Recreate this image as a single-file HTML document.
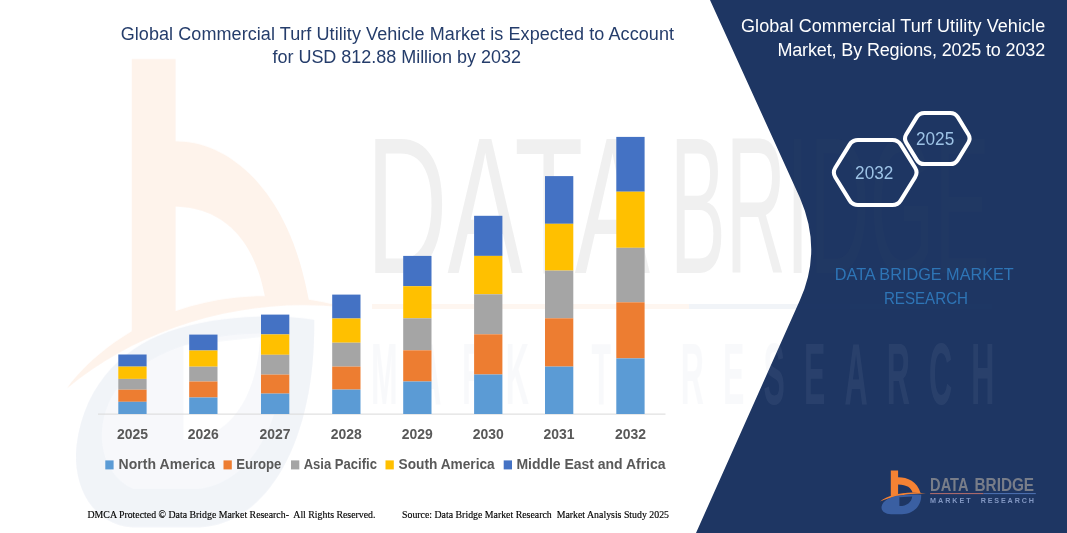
<!DOCTYPE html>
<html><head><meta charset="utf-8"><title>Global Commercial Turf Utility Vehicle Market</title>
<style>
html,body{margin:0;padding:0;background:#fff;}
body{width:1067px;height:533px;overflow:hidden;font-family:"Liberation Sans",sans-serif;}
svg{display:block;position:absolute;left:0;top:0;}
text{font-family:"Liberation Sans",sans-serif;}
.serif{font-family:"Liberation Serif",serif;}
</style></head><body>
<svg width="1067" height="533" viewBox="0 0 1067 533">
<defs>
<g id="mark">
  <path fill="#F58233" d="M10.8,2.4 H18.1 V9.3 C27,9.2 37.5,13.5 40.6,25.2 L32.6,24.6 C31.3,20 27,16.6 18.1,16.5 V26.6 L10.8,28.6 Z"/>
  <path fill="#F58233" d="M0,33.4 C9,26.3 27,22.3 46,25.5 C29,24.9 12,28.6 0,33.4 Z"/>
  <path fill="#3A5FA2" fill-rule="evenodd" class="bl" d="M41.2,26.8 C41.5,38 33.5,46 22,46.2 L11,46.2 C4.5,46 0.8,42.5 1.6,38.5 C3,32.5 10,29 18.5,27.6 C26,26.4 35,26.2 41.2,26.8 Z M19.4,29.2 L32.2,28.4 C31.6,34.2 27,38 19.4,38 Z"/>
</g>
<g id="logo">
  <use href="#mark"/>
  <text x="50.1" y="22.6" font-size="18" font-weight="bold" fill="#787D89" textLength="38.4" lengthAdjust="spacingAndGlyphs">DATA</text>
  <text x="94.5" y="22.6" font-size="18" font-weight="bold" fill="#787D89" textLength="59.6" lengthAdjust="spacingAndGlyphs">BRIDGE</text>
  <rect x="50.1" y="25.1" width="53.4" height="1" fill="#B86F6C"/>
  <rect x="103.5" y="25.1" width="52.3" height="1" fill="#4F74B5"/>
  <text x="50.1" y="34.7" font-size="7.2" font-weight="bold" fill="#8297C2" textLength="40.5" lengthAdjust="spacing">MARKET</text>
  <text x="100.7" y="34.7" font-size="7.2" font-weight="bold" fill="#8297C2" textLength="53.2" lengthAdjust="spacing">RESEARCH</text>
</g>
<g id="wm">
<g transform="translate(67,33.4) scale(6,10.69)">
  <path fill="#F58233" d="M10.8,2.4 H18.1 V10.1 C26,10 37,14 40.4,25.2 L33,24.6 C31.5,20 27,16.3 18.1,16.2 V26.6 L10.8,28.6 Z"/>
  <path fill="#F58233" d="M0,33.2 C9,26.5 27,22.6 46,25.6 C29,24.6 12,27.6 0,33.2 Z"/>
  <path fill="#3A5FA2" fill-opacity="0.4" fill-rule="evenodd" d="M41.2,26.8 C41.5,38 33.5,46 22,46.2 L11,46.2 C4.5,46 0.8,42.5 1.6,38.5 C3,32.5 10,29 18.5,27.6 C26,26.4 35,26.2 41.2,26.8 Z M19.4,29.2 L32.2,28.4 C31.6,34.2 27,38 19.4,38 Z"/>
  <path fill="#3A5FA2" fill-opacity="0.45" fill-rule="evenodd" d="M41.2,26.8 C41.5,38 33.5,46 22,46.2 L11,46.2 C4.5,46 0.8,42.5 1.6,38.5 C3,32.5 10,29 18.5,27.6 C26,26.4 35,26.2 41.2,26.8 Z M36.5,28.2 C27,27.6 14,29 8,33.5 C4.5,36.5 5,41 11,42.6 L22,42.6 C31,42 36.5,36 36.5,28.2 Z"/>
</g>
<g fill="#6A6A6A">
<text x="366" y="272.9" font-size="195.5" textLength="284" lengthAdjust="spacingAndGlyphs">DATA</text>
<text x="670" y="272.9" font-size="195.5" textLength="320" lengthAdjust="spacingAndGlyphs">BRIDGE</text>
</g>
<rect x="372" y="304" width="317" height="5" fill="#F58233" fill-opacity="0.7"/>
<rect x="689" y="304" width="303" height="5" fill="#3C62A6" fill-opacity="0.7"/>
</g>
<g id="wmr" font-size="86.4" fill="#BEC8DC" font-weight="bold">
<text transform="translate(371,404) scale(0.37,1)" textLength="649" lengthAdjust="spacing">MARKET</text>
<text transform="translate(680.8,404) scale(0.37,1)" textLength="847.6" lengthAdjust="spacing">RESEARCH</text>
</g>
<clipPath id="navyclip"><path d="M710,0 L800,198 Q822.5,250 800,300 L696,533 L1067,533 L1067,0 Z"/></clipPath>
</defs>
<rect width="1067" height="533" fill="#fff"/>
<!-- watermark -->
<use href="#wm" opacity="0.1"/>
<use href="#wmr" opacity="0.09"/>
<!-- navy panel -->
<path d="M710,0 L800,198 Q822.5,250 800,300 L696,533 L1067,533 L1067,0 Z" fill="#1E3663"/>
<g clip-path="url(#navyclip)"><use href="#wm" opacity="0.035"/><use href="#wmr" opacity="0.07"/></g>
<!-- titles -->
<g fill="#253D6B" font-size="18">
<text x="120.7" y="40" textLength="553.3" lengthAdjust="spacing">Global Commercial Turf Utility Vehicle Market is Expected to Account</text>
<text x="272.5" y="63.4" textLength="248.4" lengthAdjust="spacing">for USD 812.88 Million by 2032</text>
</g>
<g fill="#fff" font-size="18">
<text x="741" y="31.8" textLength="304.2" lengthAdjust="spacing">Global Commercial Turf Utility Vehicle</text>
<text x="777.4" y="55.5" textLength="267.8" lengthAdjust="spacing">Market, By Regions, 2025 to 2032</text>
</g>
<!-- chart -->
<rect x="98" y="413.6" width="567.5" height="1" fill="#D9D9D9"/>
<rect x="118.3" y="354.5" width="28.3" height="12.1" fill="#4472C4"/>
<rect x="118.3" y="366.6" width="28.3" height="12.3" fill="#FFC000"/>
<rect x="118.3" y="378.9" width="28.3" height="10.8" fill="#A5A5A5"/>
<rect x="118.3" y="389.7" width="28.3" height="12.1" fill="#ED7D31"/>
<rect x="118.3" y="401.8" width="28.3" height="12.2" fill="#5B9BD5"/>
<rect x="189.2" y="334.6" width="28.3" height="15.9" fill="#4472C4"/>
<rect x="189.2" y="350.5" width="28.3" height="16.2" fill="#FFC000"/>
<rect x="189.2" y="366.7" width="28.3" height="14.8" fill="#A5A5A5"/>
<rect x="189.2" y="381.5" width="28.3" height="16.0" fill="#ED7D31"/>
<rect x="189.2" y="397.5" width="28.3" height="16.5" fill="#5B9BD5"/>
<rect x="261.0" y="314.6" width="28.3" height="19.8" fill="#4472C4"/>
<rect x="261.0" y="334.4" width="28.3" height="20.4" fill="#FFC000"/>
<rect x="261.0" y="354.8" width="28.3" height="19.8" fill="#A5A5A5"/>
<rect x="261.0" y="374.6" width="28.3" height="19.0" fill="#ED7D31"/>
<rect x="261.0" y="393.6" width="28.3" height="20.4" fill="#5B9BD5"/>
<rect x="332.2" y="294.6" width="28.3" height="23.9" fill="#4472C4"/>
<rect x="332.2" y="318.5" width="28.3" height="24.2" fill="#FFC000"/>
<rect x="332.2" y="342.7" width="28.3" height="23.9" fill="#A5A5A5"/>
<rect x="332.2" y="366.6" width="28.3" height="23.0" fill="#ED7D31"/>
<rect x="332.2" y="389.6" width="28.3" height="24.4" fill="#5B9BD5"/>
<rect x="403.2" y="255.9" width="28.3" height="30.3" fill="#4472C4"/>
<rect x="403.2" y="286.2" width="28.3" height="32.1" fill="#FFC000"/>
<rect x="403.2" y="318.3" width="28.3" height="32.0" fill="#A5A5A5"/>
<rect x="403.2" y="350.3" width="28.3" height="31.2" fill="#ED7D31"/>
<rect x="403.2" y="381.5" width="28.3" height="32.5" fill="#5B9BD5"/>
<rect x="474.1" y="215.8" width="28.3" height="40.1" fill="#4472C4"/>
<rect x="474.1" y="255.9" width="28.3" height="38.4" fill="#FFC000"/>
<rect x="474.1" y="294.3" width="28.3" height="40.0" fill="#A5A5A5"/>
<rect x="474.1" y="334.3" width="28.3" height="40.2" fill="#ED7D31"/>
<rect x="474.1" y="374.5" width="28.3" height="39.5" fill="#5B9BD5"/>
<rect x="545.0" y="176.1" width="28.3" height="47.7" fill="#4472C4"/>
<rect x="545.0" y="223.8" width="28.3" height="46.8" fill="#FFC000"/>
<rect x="545.0" y="270.6" width="28.3" height="47.7" fill="#A5A5A5"/>
<rect x="545.0" y="318.3" width="28.3" height="48.3" fill="#ED7D31"/>
<rect x="545.0" y="366.6" width="28.3" height="47.4" fill="#5B9BD5"/>
<rect x="616.3" y="136.9" width="28.3" height="54.8" fill="#4472C4"/>
<rect x="616.3" y="191.7" width="28.3" height="56.1" fill="#FFC000"/>
<rect x="616.3" y="247.8" width="28.3" height="54.5" fill="#A5A5A5"/>
<rect x="616.3" y="302.3" width="28.3" height="56.1" fill="#ED7D31"/>
<rect x="616.3" y="358.4" width="28.3" height="55.6" fill="#5B9BD5"/>
<g font-size="14.2" font-weight="bold" fill="#595959">
<text x="116.9" y="439.3" textLength="31" lengthAdjust="spacingAndGlyphs">2025</text>
<text x="187.8" y="439.3" textLength="31" lengthAdjust="spacingAndGlyphs">2026</text>
<text x="259.6" y="439.3" textLength="31" lengthAdjust="spacingAndGlyphs">2027</text>
<text x="330.8" y="439.3" textLength="31" lengthAdjust="spacingAndGlyphs">2028</text>
<text x="401.8" y="439.3" textLength="31" lengthAdjust="spacingAndGlyphs">2029</text>
<text x="472.8" y="439.3" textLength="31" lengthAdjust="spacingAndGlyphs">2030</text>
<text x="543.6" y="439.3" textLength="31" lengthAdjust="spacingAndGlyphs">2031</text>
<text x="614.9" y="439.3" textLength="31" lengthAdjust="spacingAndGlyphs">2032</text>
</g>
<!-- legend -->
<g font-size="14" font-weight="bold" fill="#595959">
<rect x="105.3" y="460.4" width="8.3" height="9" fill="#5B9BD5"/>
<text x="118.6" y="469.3" textLength="96.5" lengthAdjust="spacing">North America</text>
<rect x="223.5" y="460.4" width="8.3" height="9" fill="#ED7D31"/>
<text x="236.2" y="469.3" textLength="45.2" lengthAdjust="spacingAndGlyphs">Europe</text>
<rect x="291" y="460.4" width="8.3" height="9" fill="#A5A5A5"/>
<text x="303.7" y="469.3" textLength="73.2" lengthAdjust="spacingAndGlyphs">Asia Pacific</text>
<rect x="385.5" y="460.4" width="8.3" height="9" fill="#FFC000"/>
<text x="398.6" y="469.3" textLength="96.1" lengthAdjust="spacingAndGlyphs">South America</text>
<rect x="503.7" y="460.4" width="8.3" height="9" fill="#4472C4"/>
<text x="516.4" y="469.3" textLength="149.1" lengthAdjust="spacing">Middle East and Africa</text>
</g>
<!-- footnotes -->
<g class="serif" font-size="9.84" fill="#000" stroke="#000" stroke-width="0.15">
<text class="serif" x="87.5" y="517.6" style="white-space:pre" textLength="288" lengthAdjust="spacing">DMCA Protected © Data Bridge Market Research-  All Rights Reserved.</text>
<text class="serif" x="402" y="517.6" style="white-space:pre" textLength="267" lengthAdjust="spacing">Source: Data Bridge Market Research  Market Analysis Study 2025</text>
</g>
<!-- hexagons -->
<g fill="none" stroke="#fff" stroke-width="4" stroke-linejoin="round">
<path d="M835.29,177.18 Q832.40,172.50 835.29,167.82 L849.61,144.58 Q852.50,139.90 858.00,139.90 L892.40,139.90 Q897.90,139.90 900.79,144.58 L915.11,167.82 Q918.00,172.50 915.11,177.18 L900.79,200.42 Q897.90,205.10 892.40,205.10 L858.00,205.10 Q852.50,205.10 849.61,200.42 Z"/>
<path d="M906.31,142.76 Q903.70,138.50 906.31,134.24 L916.79,117.16 Q919.40,112.90 924.40,112.90 L950.20,112.90 Q955.20,112.90 957.81,117.16 L968.29,134.24 Q970.90,138.50 968.29,142.76 L957.81,159.84 Q955.20,164.10 950.20,164.10 L924.40,164.10 Q919.40,164.10 916.79,159.84 Z"/>
</g>
<g font-size="18" fill="#9DC3E6">
<text x="855.1" y="178.7" textLength="38.2" lengthAdjust="spacingAndGlyphs">2032</text>
<text x="916" y="145.3" textLength="38.2" lengthAdjust="spacingAndGlyphs">2025</text>
</g>
<!-- center label -->
<g fill="#2E75B6" font-size="17">
<text x="834.8" y="279.5" textLength="179" lengthAdjust="spacingAndGlyphs">DATA BRIDGE MARKET</text>
<text x="883.9" y="303.6" textLength="84.1" lengthAdjust="spacingAndGlyphs">RESEARCH</text>
</g>
<!-- logo -->
<use href="#logo" transform="translate(880,468)"/>
</svg>
</body></html>
